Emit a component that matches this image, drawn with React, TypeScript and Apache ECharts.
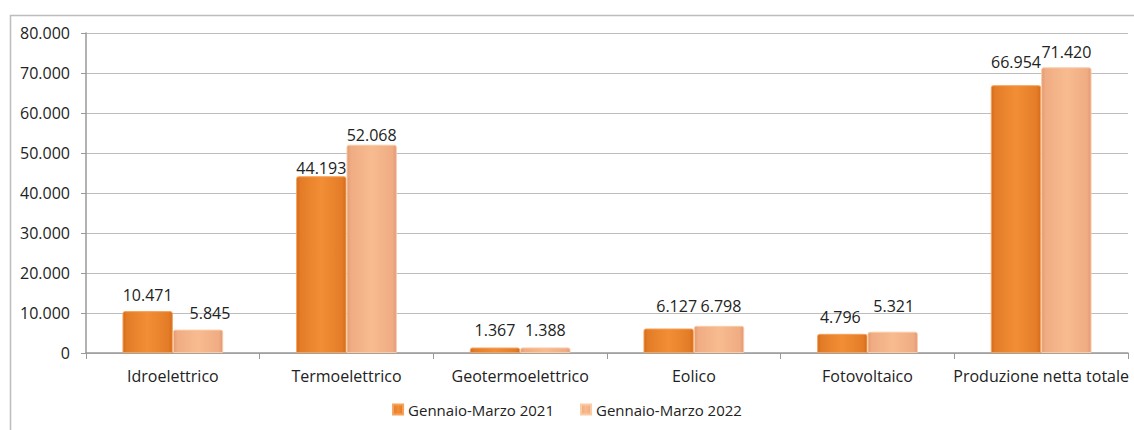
import React, { useEffect, useRef } from "react";
import * as echarts from "echarts";

const categories = [
  "Idroelettrico",
  "Termoelettrico",
  "Geotermoelettrico",
  "Eolico",
  "Fotovoltaico",
  "Produzione netta totale",
];
const series2021 = [10471, 44193, 1367, 6127, 4796, 66954];
const series2022 = [5845, 52068, 1388, 6798, 5321, 71420];
const seriesNames = ["Gennaio-Marzo 2021", "Gennaio-Marzo 2022"];
const yTicks = [0, 10000, 20000, 30000, 40000, 50000, 60000, 70000, 80000];

// label nudges (style only), as placed in the original
const labelNudge2021 = [[0, -1], [0, 7], [0, -3], [8, -7], [-2, -2], [0, -8]];
const labelNudge2022 = [[12, -2], [0, 5], [0, -2], [2, -5], [1, -11], [0, 0]];

const fmt = (v: number) =>
  v === 0 ? "0" : v.toString().replace(/\B(?=(\d{3})+(?!\d))/g, ".");

const FONT = "Open Sans";

export default function App() {
  const ref = useRef<HTMLDivElement>(null);
  useEffect(() => {
    if (!ref.current) return;
    const chart = echarts.init(ref.current, undefined, { renderer: "svg" });
    const grad2021 = new echarts.graphic.LinearGradient(0, 0, 1, 0, [
      { offset: 0, color: "#D26B1C" },
      { offset: 0.08, color: "#E47C27" },
      { offset: 0.5, color: "#F28E35" },
      { offset: 0.92, color: "#E47C27" },
      { offset: 1, color: "#D26B1C" },
    ]);
    const grad2022 = new echarts.graphic.LinearGradient(0, 0, 1, 0, [
      { offset: 0, color: "#E29A72" },
      { offset: 0.08, color: "#F0AC82" },
      { offset: 0.5, color: "#F8BB90" },
      { offset: 0.92, color: "#F0AC82" },
      { offset: 1, color: "#E0987A" },
    ]);
    const labelBase = {
      show: true,
      position: "top",
      distance: 7,
      fontFamily: FONT,
      fontSize: 16,
      color: "#222",
      formatter: (p: any) => fmt(p.value),
    };
    const mk = (vals: number[], nudges: number[][]) =>
      vals.map((v, i) => ({ value: v, label: { offset: nudges[i] } }));
    chart.setOption({
      animation: false,
      textStyle: { fontFamily: FONT },
      graphic: [
        {
          type: "rect",
          shape: { x: 10.5, y: 15.5, width: 1140, height: 430 },
          style: { fill: "none", stroke: "#BDBDBD", lineWidth: 1.5 },
          silent: true,
        },
      ],
      grid: { left: 86, right: 6, top: 33, bottom: 77, containLabel: false },
      legend: {
        bottom: 8,
        left: "center",
        itemWidth: 10,
        itemHeight: 10,
        itemGap: 26,
        icon: "rect",
        textStyle: { fontFamily: FONT, fontSize: 15, color: "#222" },
        data: seriesNames,
      },
      xAxis: {
        type: "category",
        data: categories,
        axisLine: { lineStyle: { color: "#999", width: 1.5 } },
        axisTick: { show: true, length: 6, lineStyle: { color: "#999" } },
        axisLabel: {
          fontFamily: FONT,
          fontSize: 16,
          color: "#222",
          margin: 15,
          interval: 0,
        },
      },
      yAxis: {
        type: "value",
        min: yTicks[0],
        max: yTicks[yTicks.length - 1],
        interval: 10000,
        axisLine: { show: true, lineStyle: { color: "#999", width: 1.5 } },
        axisTick: { show: true, length: 5, lineStyle: { color: "#999" } },
        splitLine: { lineStyle: { color: "#BDBDBD", width: 1 } },
        axisLabel: {
          fontFamily: FONT,
          fontSize: 16,
          color: "#222",
          margin: 16,
          formatter: (v: number) => fmt(v),
        },
      },
      series: [
        {
          name: seriesNames[0],
          type: "bar",
          data: mk(series2021, labelNudge2021),
          barGap: "0%",
          barCategoryGap: "42%",
          itemStyle: {
            color: grad2021,
            borderColor: "#F6A25A",
            borderWidth: 1,
            borderRadius: [2, 2, 0, 0],
          },
          label: labelBase,
        },
        {
          name: seriesNames[1],
          type: "bar",
          data: mk(series2022, labelNudge2022),
          itemStyle: {
            color: grad2022,
            borderColor: "#FBCBA6",
            borderWidth: 1,
            borderRadius: [2, 2, 0, 0],
          },
          label: labelBase,
        },
      ],
    });
    return () => chart.dispose();
  }, []);
  return (
    <div
      ref={ref}
      style={{ position: "fixed", left: 0, top: 0, width: 1134, height: 430, background: "#fff" }}
    />
  );
}
